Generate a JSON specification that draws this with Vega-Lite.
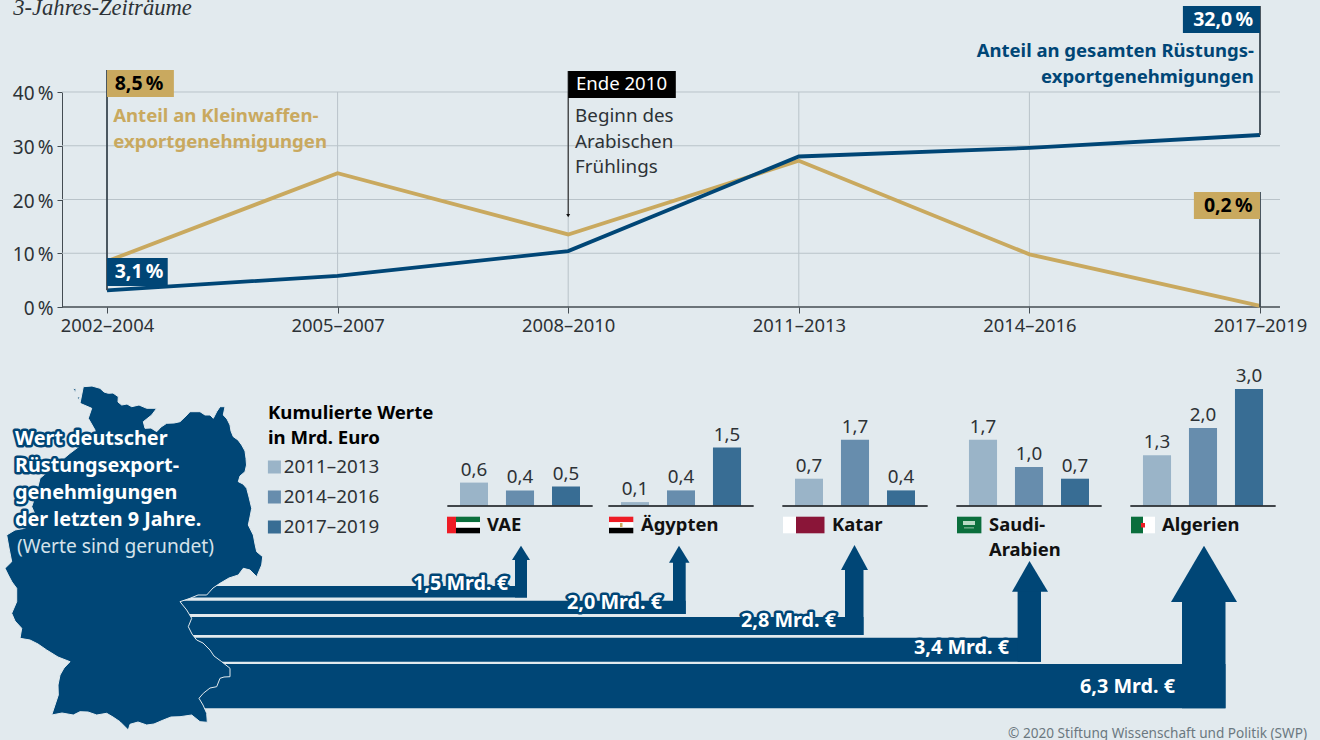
{
"$schema":"https://vega.github.io/schema/vega-lite/v6.json",
"width":1320,"height":740,
"autosize":{"type":"none"},
"padding":0,
"background":"#e2eaee",
"config":{"view":{"stroke":null},"font":"Noto Sans","text":{"font":"Noto Sans"}},
"datasets":{
"anteile":[
{"reihe":"Kleinwaffen","jahr":2003,"prozent":8.5},{"reihe":"Kleinwaffen","jahr":2006,"prozent":24.9},{"reihe":"Kleinwaffen","jahr":2009,"prozent":13.5},{"reihe":"Kleinwaffen","jahr":2012,"prozent":27.2},{"reihe":"Kleinwaffen","jahr":2015,"prozent":9.8},{"reihe":"Kleinwaffen","jahr":2018,"prozent":0.2},
{"reihe":"Gesamt","jahr":2003,"prozent":3.1},{"reihe":"Gesamt","jahr":2006,"prozent":5.8},{"reihe":"Gesamt","jahr":2009,"prozent":10.4},{"reihe":"Gesamt","jahr":2012,"prozent":28},{"reihe":"Gesamt","jahr":2015,"prozent":29.6},{"reihe":"Gesamt","jahr":2018,"prozent":32}
],
"exporte":[
{"land":"VAE","zeitraum":"2011–2013","wert":0.6,"label":"0,6"},{"land":"VAE","zeitraum":"2014–2016","wert":0.4,"label":"0,4"},{"land":"VAE","zeitraum":"2017–2019","wert":0.5,"label":"0,5"},
{"land":"Ägypten","zeitraum":"2011–2013","wert":0.1,"label":"0,1"},{"land":"Ägypten","zeitraum":"2014–2016","wert":0.4,"label":"0,4"},{"land":"Ägypten","zeitraum":"2017–2019","wert":1.5,"label":"1,5"},
{"land":"Katar","zeitraum":"2011–2013","wert":0.7,"label":"0,7"},{"land":"Katar","zeitraum":"2014–2016","wert":1.7,"label":"1,7"},{"land":"Katar","zeitraum":"2017–2019","wert":0.4,"label":"0,4"},
{"land":"Saudi-Arabien","zeitraum":"2011–2013","wert":1.7,"label":"1,7"},{"land":"Saudi-Arabien","zeitraum":"2014–2016","wert":1.0,"label":"1,0"},{"land":"Saudi-Arabien","zeitraum":"2017–2019","wert":0.7,"label":"0,7"},
{"land":"Algerien","zeitraum":"2011–2013","wert":1.3,"label":"1,3"},{"land":"Algerien","zeitraum":"2014–2016","wert":2.0,"label":"2,0"},{"land":"Algerien","zeitraum":"2017–2019","wert":3.0,"label":"3,0"}
]
},
"resolve":{"scale":{"x":"independent","y":"independent"}},
"layer":[
{
"encoding":{
"x":{"field":"jahr","type":"quantitative","scale":{"domain":[2003,2018],"range":[107,1260],"nice":false,"zero":false},
"axis":{"orient":"bottom","offset":-433,"values":[2003,2006,2009,2012,2015,2018],"labelExpr":"(datum.value-1)+'–'+(datum.value+1)","title":null,"domain":false,"grid":false,"ticks":true,"tickSize":6,"tickColor":"#444c52","labelFontSize":18.4,"labelColor":"#2d3236","labelPadding":3,"labelFlush":false,"labelOverlap":false,"labelFont":"Noto Sans"}},
"y":{"field":"prozent","type":"quantitative","scale":{"domain":[0,40],"range":[307,92],"nice":false},
"axis":{"orient":"left","offset":-62,"values":[0,10,20,30,40],"labelExpr":"datum.value+'\u202f%'","title":null,"grid":false,"domainColor":"#444c52","tickColor":"#444c52","tickSize":5,"labelFontSize":19,"labelColor":"#2d3236","labelPadding":4,"labelOffset":1.5,"labelFont":"Noto Sans"}}
},
"layer":[
{"data":{"values":[{"jahr":2002.415,"jahr2":2018.26,"prozent":10},{"jahr":2002.415,"jahr2":2018.26,"prozent":20},{"jahr":2002.415,"jahr2":2018.26,"prozent":30},{"jahr":2002.415,"jahr2":2018.26,"prozent":40}]},
 "mark":{"type":"rule","color":"#b9c3c9","strokeWidth":1},"encoding":{"x2":{"field":"jahr2"}}},
{"data":{"values":[{"jahr":2006,"prozent":0,"prozent2":40},{"jahr":2009,"prozent":0,"prozent2":40},{"jahr":2012,"prozent":0,"prozent2":40},{"jahr":2015,"prozent":0,"prozent2":40}]},
 "mark":{"type":"rule","color":"#b9c3c9","strokeWidth":1},"encoding":{"y2":{"field":"prozent2"}}},
{"data":{"values":[{"jahr":2002.415,"jahr2":2018.26,"prozent":0}]},
 "mark":{"type":"rule","color":"#444c52","strokeWidth":1.3},"encoding":{"x2":{"field":"jahr2"}}},
{"data":{"name":"anteile"},"transform":[{"filter":"datum.reihe==='Kleinwaffen'"}],"mark":{"type":"line","color":"#c9a95f","strokeWidth":3.8}},
{"data":{"name":"anteile"},"transform":[{"filter":"datum.reihe==='Gesamt'"}],"mark":{"type":"line","color":"#004676","strokeWidth":3.8}},
{"data":{"values":[{"jahr":2003,"prozent":44.1,"prozent2":3.1},{"jahr":2018,"prozent":56,"prozent2":32},{"jahr":2018,"prozent":21.4,"prozent2":0}]},
 "mark":{"type":"rule","color":"#3a4750","strokeWidth":1.8},"encoding":{"y2":{"field":"prozent2"}}},
{"data":{"values":[{"jahr":2009,"prozent":43.9,"prozent2":17}]},
 "mark":{"type":"rule","color":"#222222","strokeWidth":1.1},"encoding":{"y2":{"field":"prozent2"}}},
{"data":{"values":[{"jahr":2009,"prozent":17}]},
 "mark":{"type":"point","shape":"triangle-down","filled":true,"color":"#111111","size":16,"opacity":1}},
{"data":{"values":[
 {"art":"Kleinwaffen","jahr":2003,"jahr2":2003.87,"prozent":44.1,"prozent2":39.07},
 {"art":"Gesamt","jahr":2003,"jahr2":2003.79,"prozent":9.12,"prozent2":3.91},
 {"art":"Ereignis","jahr":2009,"jahr2":2010.4,"prozent":43.9,"prozent2":38.88},
 {"art":"Gesamt","jahr":2016.997,"jahr2":2018,"prozent":56,"prozent2":50.98},
 {"art":"Kleinwaffen","jahr":2017.14,"jahr2":2018,"prozent":21.4,"prozent2":16.37}]},
 "mark":{"type":"rect"},
 "encoding":{"x2":{"field":"jahr2"},"y2":{"field":"prozent2"},"fill":{"field":"art","type":"nominal","legend":null,"scale":{"domain":["rot","grün","weiß","schwarz","gold","maroon","hell","Kleinwaffen","Gesamt","Ereignis"],"range":["#ee1c25","#0a6e3c","#ffffff","#000000","#c9a95f","#8a1538","#b7d8c4","#c9a95f","#004676","#000000"]}}}},
{"data":{"values":[{"jahr":2003.1,"prozent":41.5,"text":"8,5\u202f%"},{"jahr":2017.27,"prozent":18.8,"text":"0,2\u202f%"}]},
 "mark":{"type":"text","align":"left","baseline":"middle","fontWeight":"bold","fontSize":19.5,"color":"#000000"},"encoding":{"text":{"field":"text"}}},
{"data":{"values":[{"jahr":2003.1,"prozent":6.5,"text":"3,1\u202f%"},{"jahr":2017.13,"prozent":53.4,"text":"32,0\u202f%"}]},
 "mark":{"type":"text","align":"left","baseline":"middle","fontWeight":"bold","fontSize":19.5,"color":"#ffffff"},"encoding":{"text":{"field":"text"}}},
{"data":{"values":[{"jahr":2009.1,"prozent":41.5,"text":"Ende 2010"}]},
 "mark":{"type":"text","align":"left","baseline":"middle","fontSize":18.6,"color":"#ffffff"},"encoding":{"text":{"field":"text"}}},
{"data":{"values":[{"jahr":2003.08,"prozent":35.5,"text":"Anteil an Kleinwaffen-"},{"jahr":2003.08,"prozent":30.7,"text":"exportgenehmigungen"}]},
 "mark":{"type":"text","align":"left","baseline":"middle","fontWeight":"bold","fontSize":18.6,"color":"#c9a95f"},"encoding":{"text":{"field":"text"}}},
{"data":{"values":[{"jahr":2017.92,"prozent":47.63,"text":"Anteil an gesamten Rüstungs-"},{"jahr":2017.92,"prozent":42.79,"text":"exportgenehmigungen"}]},
 "mark":{"type":"text","align":"right","baseline":"middle","fontWeight":"bold","fontSize":18.5,"color":"#004676"},"encoding":{"text":{"field":"text"}}},
{"data":{"values":[{"jahr":2009.09,"prozent":35.5,"text":"Beginn des"},{"jahr":2009.09,"prozent":30.7,"text":"Arabischen"},{"jahr":2009.09,"prozent":26.05,"text":"Frühlings"}]},
 "mark":{"type":"text","align":"left","baseline":"middle","fontSize":18.8,"color":"#2d3236"},"encoding":{"text":{"field":"text"}}},
{"data":{"values":[{"jahr":2001.78,"prozent":54.3,"text":"3-Jahres-Zeiträume"}]},
 "mark":{"type":"text","align":"left","baseline":"alphabetic","font":"Liberation Serif","fontStyle":"italic","fontSize":22.6,"color":"#2d3236"},"encoding":{"text":{"field":"text"}}}
]
},
{
"data":{"name":"exporte"},
"transform":[{"filter":"datum.land==='VAE'"}],
"encoding":{
"x":{"field":"land","type":"nominal","scale":{"type":"band","domain":["VAE"],"range":[433,607],"paddingInner":0,"paddingOuter":0},"axis":null},
"y":{"field":"wert","type":"quantitative","scale":{"domain":[0,3],"range":[506,389],"nice":false},"axis":null}
},
"layer":[
{"mark":{"type":"bar"},"encoding":{"xOffset":{"field":"zeitraum","type":"nominal","scale":{"domain":["2011–2013","2014–2016","2017–2019"],"range":[18,156],"paddingInner":0.39,"paddingOuter":0.195}},
 "color":{"field":"zeitraum","type":"nominal","scale":{"domain":["2011–2013","2014–2016","2017–2019"],"range":["#9ab4c8","#678dad","#386d94"]},
 "legend":{"orient":"none","legendX":268,"legendY":404,"title":["Kumulierte Werte","in Mrd. Euro"],"titleFontSize":18.6,"titleFontWeight":"bold","titleColor":"#000000","titleLineHeight":25,"titleFont":"Noto Sans","titlePadding":10,"labelFontSize":18.8,"labelColor":"#2d3236","labelFont":"Noto Sans","symbolType":"square","symbolSize":169,"symbolStrokeWidth":0,"symbolOffset":-3,"rowPadding":10,"labelOffset":0}}}},
{"mark":{"type":"text","baseline":"bottom","dy":-3,"fontSize":18.8,"color":"#2d3236"},"encoding":{"xOffset":{"field":"zeitraum","type":"nominal","scale":{"domain":["2011–2013","2014–2016","2017–2019"],"range":[18,156],"paddingInner":0.39,"paddingOuter":0.195}},"text":{"field":"label"}}},
{"mark":{"type":"tick","orient":"horizontal","size":145,"thickness":1.5,"color":"#2d3236"},"encoding":{"y":{"datum":0,"type":"quantitative","scale":{"domain":[0,3],"range":[506,389],"nice":false},"axis":null}}}
]
},
{
"data":{"name":"exporte"},
"transform":[{"filter":"datum.land!=='VAE'"}],
"encoding":{
"x":{"field":"land","type":"nominal","scale":{"type":"band","domain":["Ägypten","Katar","Saudi-Arabien","Algerien"],"range":[594,1290],"paddingInner":0,"paddingOuter":0},"axis":null},
"y":{"field":"wert","type":"quantitative","scale":{"domain":[0,3],"range":[506,389],"nice":false},"axis":null}
},
"layer":[
{"mark":{"type":"bar"},"encoding":{"xOffset":{"field":"zeitraum","type":"nominal","scale":{"domain":["2011–2013","2014–2016","2017–2019"],"range":[18,156],"paddingInner":0.39,"paddingOuter":0.195}},
 "color":{"field":"zeitraum","type":"nominal"}}},
{"mark":{"type":"text","baseline":"bottom","dy":-3,"fontSize":18.8,"color":"#2d3236"},"encoding":{"xOffset":{"field":"zeitraum","type":"nominal","scale":{"domain":["2011–2013","2014–2016","2017–2019"],"range":[18,156],"paddingInner":0.39,"paddingOuter":0.195}},"text":{"field":"label"}}},
{"mark":{"type":"tick","orient":"horizontal","size":145,"thickness":1.5,"color":"#2d3236"},"encoding":{"y":{"datum":0,"type":"quantitative","scale":{"domain":[0,3],"range":[506,389],"nice":false},"axis":null}}}
]
},
{
"encoding":{
"x":{"field":"x","type":"quantitative","scale":{"domain":[0,1320],"range":[0,1320],"nice":false,"zero":false},"axis":null},
"y":{"field":"y","type":"quantitative","scale":{"domain":[0,740],"range":[0,740],"nice":false,"zero":false},"axis":null}
},
"layer":[
{"data":{"values":[
{"x":150,"x2":527,"y":586,"y2":597.5},{"x":515,"x2":527,"y":558,"y2":597.5},
{"x":150,"x2":685.7,"y":600.7,"y2":614},{"x":673,"x2":685.7,"y":560,"y2":614},
{"x":150,"x2":863.5,"y":617,"y2":635},{"x":845,"x2":863.5,"y":568,"y2":635},
{"x":150,"x2":1041,"y":637.7,"y2":661.7},{"x":1017.6,"x2":1041,"y":590,"y2":661.7},
{"x":150,"x2":1225.5,"y":664,"y2":708.3},{"x":1182,"x2":1225.5,"y":600,"y2":708.3}]},
 "mark":{"type":"rect","color":"#004676"},"encoding":{"x2":{"field":"x2"},"y2":{"field":"y2"}}},
{"data":{"values":[
{"pfeil":"VAE","x":512,"y":560,"y2":560},{"pfeil":"VAE","x":521,"y":545.7,"y2":560},{"pfeil":"VAE","x":530,"y":560,"y2":560},
{"pfeil":"Ägypten","x":669,"y":562.7,"y2":562.7},{"pfeil":"Ägypten","x":679,"y":545.7,"y2":562.7},{"pfeil":"Ägypten","x":689.5,"y":562.7,"y2":562.7},
{"pfeil":"Katar","x":841,"y":570,"y2":570},{"pfeil":"Katar","x":854.5,"y":545,"y2":570},{"pfeil":"Katar","x":868,"y":570,"y2":570},
{"pfeil":"Saudi-Arabien","x":1012,"y":591.7,"y2":591.7},{"pfeil":"Saudi-Arabien","x":1029.5,"y":561,"y2":591.7},{"pfeil":"Saudi-Arabien","x":1048,"y":591.7,"y2":591.7},
{"pfeil":"Algerien","x":1171,"y":602,"y2":602},{"pfeil":"Algerien","x":1204,"y":545.7,"y2":602},{"pfeil":"Algerien","x":1237,"y":602,"y2":602}]},
 "mark":{"type":"area","color":"#004676","orient":"vertical","opacity":1},"encoding":{"y2":{"field":"y2"},"detail":{"field":"pfeil"},"y":{"field":"y","type":"quantitative","stack":null}}}
]
},
{
"data":{"values":[{"type":"Feature","properties":{"name":"Deutschland"},"geometry":{"type":"MultiPolygon","coordinates":[[[[83.3,386.7],[92,386],[100,388.3],[104,392],[108.3,393.3],[113,393],[118.3,396.7],[118,402],[121.7,405],[127,404],[131.7,406.7],[139,405],[146.7,408.3],[156.7,408.3],[151.7,415],[143.3,421.7],[145,428.3],[151,428],[156.7,431.7],[161,427],[166.7,423.3],[174,423],[180,421.7],[186,416],[190,411.7],[200,411.7],[205,415],[210,415],[213.3,418.3],[216.7,411.7],[220,406.7],[225,406.7],[223.3,415],[227,419],[230,425],[231,431],[233.3,436.7],[238,440],[241.7,445],[245,451],[246,458.3],[246.5,465],[245,471.7],[240,476],[238.3,481.7],[243,484],[246.7,488.3],[249,497],[251.7,508.3],[250,517],[248.3,525],[253.3,535],[255,544],[256.7,551.7],[262.7,556.7],[261.7,565],[256.7,576.7],[250,570],[243.3,568.3],[238.3,575],[229,578],[220,583.3],[213,588],[206.7,595],[198,595],[190,598.3],[180,601.7],[186.7,610],[191.7,618.3],[188.3,626.7],[192,634],[196.7,640],[203,643],[210,650],[214,656],[221.7,661.7],[230,668.3],[230,676.7],[224,677],[220,678.3],[216.7,686.7],[210,688],[203.3,693.3],[199,698.3],[203,705],[206.7,713.3],[207.3,722.3],[200,721.7],[191.7,715],[180,716.7],[171,717],[163.3,720],[154,724],[146.7,725],[138,722],[130,724.3],[128.3,730],[120,721.7],[113,717],[106.7,713.3],[96.7,715],[88,712],[80,711.7],[73.3,715],[62,713],[51.7,715],[55,705],[58.3,695],[58,685],[60,675],[64,668],[70,661.7],[58,657],[46.7,650],[38,644],[30,640],[20,638.3],[21.7,628.3],[15,621],[11.7,613.3],[16.7,601.7],[16.7,588.3],[12,582],[8.3,575],[5,568.3],[11.7,561.7],[9,548],[6.7,535],[15,530],[25,528.3],[36.7,518.3],[31.7,506.7],[36.7,491.7],[40,478.3],[60,461.7],[70,453.3],[83.3,443.3],[95,440],[95,430],[88.3,418.3],[91.7,408.3],[80,403.3],[83.3,386.7]]],[[[73,388],[76,389],[75.5,393],[73,393]]],[[[77,397],[80,397],[79,400],[77,400]]],[[[216,401],[218,399],[218,404]]]]}}]},
"projection":{"type":"identity","scale":1,"translate":[0,0]},
"mark":{"type":"geoshape","fill":"#004676","stroke":"#e2eaee","strokeWidth":1}
},
{
"encoding":{
"x":{"field":"x","type":"quantitative","scale":{"domain":[0,1320],"range":[0,1320],"nice":false,"zero":false},"axis":null},
"y":{"field":"y","type":"quantitative","scale":{"domain":[0,740],"range":[0,740],"nice":false,"zero":false},"axis":null},
"text":{"field":"text"}
},
"layer":[
{"data":{"values":[{"x":15,"y":439,"text":"Wert deutscher"},{"x":15,"y":466,"text":"Rüstungsexport-"},{"x":15,"y":493,"text":"genehmigungen"},{"x":15,"y":520,"text":"der letzten 9 Jahre."},{"x":413,"y":584,"text":"1,5 Mrd. €"},{"x":567,"y":603,"text":"2,0 Mrd. €"},{"x":741,"y":621,"text":"2,8 Mrd. €"},{"x":914,"y":648,"text":"3,4 Mrd. €"},{"x":1080,"y":687,"text":"6,3 Mrd. €"}]},
 "mark":{"type":"text","align":"left","baseline":"middle","fontWeight":"bold","fontSize":19.8,"stroke":"#004676","strokeWidth":5,"strokeJoin":"round","color":"#004676"},"encoding":{"stroke":{"value":"#004676"}}},
{"data":{"values":[{"x":15,"y":439,"text":"Wert deutscher"},{"x":15,"y":466,"text":"Rüstungsexport-"},{"x":15,"y":493,"text":"genehmigungen"},{"x":15,"y":520,"text":"der letzten 9 Jahre."},{"x":413,"y":584,"text":"1,5 Mrd. €"},{"x":567,"y":603,"text":"2,0 Mrd. €"},{"x":741,"y":621,"text":"2,8 Mrd. €"},{"x":914,"y":648,"text":"3,4 Mrd. €"},{"x":1080,"y":687,"text":"6,3 Mrd. €"}]},
 "mark":{"type":"text","align":"left","baseline":"middle","fontWeight":"bold","fontSize":19.8,"color":"#ffffff"}},
{"data":{"values":[{"x":17,"y":547,"text":"(Werte sind gerundet)"}]},
 "mark":{"type":"text","align":"left","baseline":"middle","fontSize":19.2,"color":"#d5e2ea"}},
{"data":{"values":[{"x":487,"y":525,"text":"VAE"},{"x":641,"y":525,"text":"Ägypten"},{"x":832,"y":525,"text":"Katar"},{"x":989,"y":525,"text":"Saudi-"},{"x":989,"y":550,"text":"Arabien"},{"x":1162,"y":525,"text":"Algerien"}]},
 "mark":{"type":"text","align":"left","baseline":"middle","fontWeight":"bold","fontSize":18.4,"color":"#111111"}},
{"data":{"values":[{"x":1307,"y":738,"text":"© 2020 Stiftung Wissenschaft und Politik (SWP)"}]},
 "mark":{"type":"text","align":"right","baseline":"alphabetic","fontSize":13.6,"color":"#6b7880"}},
{"data":{"values":[
{"farbe":"rot","x":447,"x2":456,"y":516.7,"y2":533.3},{"farbe":"grün","x":456,"x2":480,"y":516.7,"y2":522.2},{"farbe":"weiß","x":456,"x2":480,"y":522.2,"y2":527.8},{"farbe":"schwarz","x":456,"x2":480,"y":527.8,"y2":533.3},
{"farbe":"rot","x":609,"x2":633.3,"y":516.7,"y2":522.2},{"farbe":"weiß","x":609,"x2":633.3,"y":522.2,"y2":527.8},{"farbe":"schwarz","x":609,"x2":633.3,"y":527.8,"y2":533.3},{"farbe":"gold","x":620,"x2":622.5,"y":523,"y2":527},
{"farbe":"weiß","x":783,"x2":796,"y":516.7,"y2":533.3},{"farbe":"maroon","x":796,"x2":824.5,"y":516.7,"y2":533.3},
{"farbe":"grün","x":957,"x2":981.4,"y":516.7,"y2":533.3},{"farbe":"hell","x":963,"x2":975,"y":521,"y2":525},{"farbe":"hell","x":964,"x2":974,"y":527.5,"y2":528.3},
{"farbe":"grün","x":1131,"x2":1143,"y":516.7,"y2":533.3},{"farbe":"weiß","x":1143,"x2":1155,"y":516.7,"y2":533.3},{"farbe":"rot","x":1141,"x2":1145,"y":523,"y2":527.5}]},
 "mark":{"type":"rect"},
 "encoding":{"text":null,"x2":{"field":"x2"},"y2":{"field":"y2"},"fill":{"field":"farbe","type":"nominal","legend":null,"scale":{"domain":["rot","grün","weiß","schwarz","gold","maroon","hell","Kleinwaffen","Gesamt","Ereignis"],"range":["#ee1c25","#0a6e3c","#ffffff","#000000","#c9a95f","#8a1538","#b7d8c4","#c9a95f","#004676","#000000"]}}}}
]
}
]
}
